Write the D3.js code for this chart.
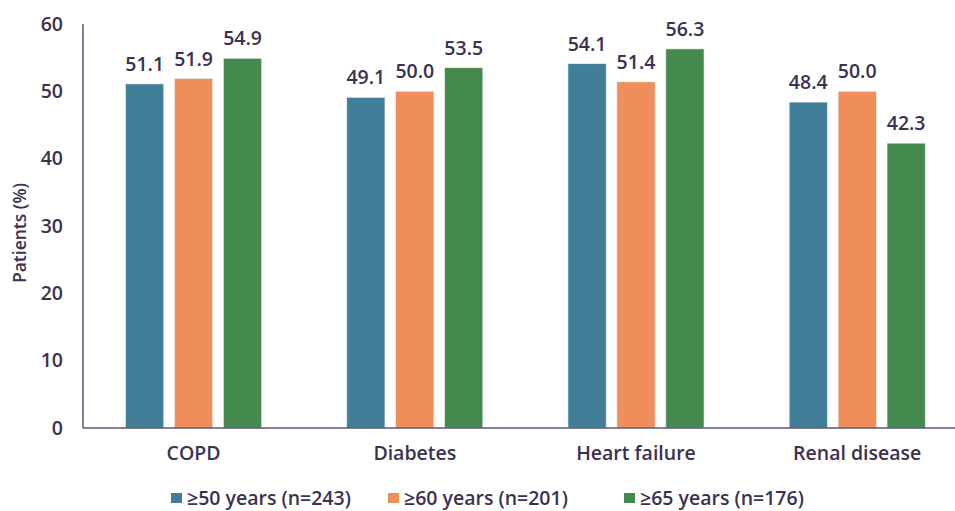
<!DOCTYPE html>
<html>
<head>
<meta charset="utf-8">
<script src="https://cdn.jsdelivr.net/npm/d3@7"></script>
<style>
  html, body { margin: 0; padding: 0; background: #ffffff; }
  svg text { font-family: "Open Sans", "Noto Sans", sans-serif; font-weight: 600; fill: #3b3150; }
</style>
</head>
<body>
<svg id="chart" width="955" height="511"></svg>
<script>
const categories = ["COPD", "Diabetes", "Heart failure", "Renal disease"];
const seriesNames = ["≥50 years (n=243)", "≥60 years (n=201)", "≥65 years (n=176)"];
const age50 = [51.1, 49.1, 54.1, 48.4];
const age60 = [51.9, 50.0, 51.4, 50.0];
const age65 = [54.9, 53.5, 56.3, 42.3];
const yTicks = [0, 10, 20, 30, 40, 50, 60];
const colors = ["#407e99", "#ef8d5b", "#448a4f"];

const seriesValues = [age50, age60, age65];
const svg = d3.select("#chart");
const FS = "19.5px";

const x0 = d3.scaleBand().domain(categories).range([83, 967.8]).paddingInner(0.385).paddingOuter(0.1925);
const x1 = d3.scaleBand().domain(d3.range(seriesNames.length)).range([0, x0.bandwidth()]).paddingInner(0.22);
const y = d3.scaleLinear().domain([0, 60]).range([428, 24]);

// bars
const groups = svg.append("g").selectAll("g")
  .data(categories).join("g")
  .attr("transform", d => `translate(${x0(d)},0)`);

groups.selectAll("rect")
  .data((c, i) => seriesValues.map((s, k) => ({k, v: s[i]})))
  .join("rect")
  .attr("x", d => x1(d.k))
  .attr("width", x1.bandwidth())
  .attr("y", d => y(d.v))
  .attr("height", d => y(0) - y(d.v))
  .attr("fill", d => colors[d.k])
  .attr("stroke", "#e8eef0")
  .attr("stroke-width", 0.6);

groups.selectAll("text.val")
  .data((c, i) => seriesValues.map((s, k) => ({k, v: s[i]})))
  .join("text")
  .attr("class", "val")
  .attr("x", d => x1(d.k) + x1.bandwidth() / 2)
  .attr("y", d => y(d.v) - 13)
  .attr("text-anchor", "middle")
  .style("font-size", FS)
  .text(d => d.v.toFixed(1));

// y axis
const yAxis = d3.axisLeft(y).tickValues(yTicks).tickSize(0).tickPadding(20).tickFormat(d3.format("d"));
const gy = svg.append("g").attr("transform", "translate(83,0)").call(yAxis);
gy.select(".domain").remove();
gy.selectAll("text").style("font-size", FS).style("fill", "#3b3150").attr("font-family", null);

svg.append("line").attr("x1", 83).attr("x2", 83).attr("y1", y(60)).attr("y2", y(0))
  .attr("stroke", "#5c5372").attr("stroke-width", 1.5);

// x axis
const xAxis = d3.axisBottom(x0).tickSize(0).tickPadding(18);
const gx = svg.append("g").attr("transform", `translate(0,${y(0)})`).call(xAxis);
gx.select(".domain").remove();
gx.selectAll("text").style("font-size", FS).style("fill", "#3b3150").attr("dy", "0.71em").attr("font-family", null);

svg.append("line").attr("x1", 83).attr("x2", 955).attr("y1", y(0)).attr("y2", y(0))
  .attr("stroke", "#5c5372").attr("stroke-width", 1.5);

// y axis title
svg.append("text")
  .attr("transform", "translate(26,233) rotate(-90)")
  .attr("text-anchor", "middle")
  .style("font-size", "17.5px")
  .text("Patients (%)");

// legend
const legendX = [171, 388, 624];
const legend = svg.append("g");
seriesNames.forEach((name, k) => {
  const lx = legendX[k];
  legend.append("rect").attr("x", lx).attr("y", 493).attr("width", 11).attr("height", 10).attr("fill", colors[k]);
  legend.append("text").attr("x", lx + 16).attr("y", 505).style("font-size", FS).text(name);
});
</script>
</body>
</html>
